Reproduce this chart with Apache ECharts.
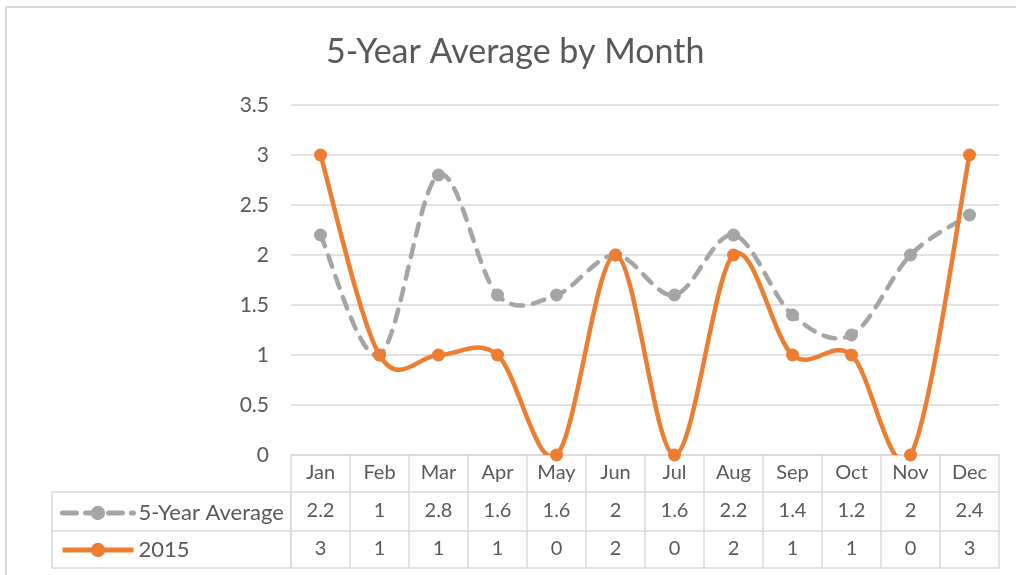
<!DOCTYPE html>
<html>
<head>
<meta charset="utf-8">
<script src="https://cdn.jsdelivr.net/npm/echarts@6/dist/echarts.min.js"></script>
<style>
  html, body { margin: 0; padding: 0; background: #fff; }
  #chart { width: 1016px; height: 575px; }
</style>
</head>
<body>
<div id="chart"></div>
<script>
// 数据
var months = ['Jan', 'Feb', 'Mar', 'Apr', 'May', 'Jun', 'Jul', 'Aug', 'Sep', 'Oct', 'Nov', 'Dec'];
var avgValues = [2.2, 1, 2.8, 1.6, 1.6, 2, 1.6, 2.2, 1.4, 1.2, 2, 2.4];
var year2015 = [3, 1, 1, 1, 0, 2, 0, 2, 1, 1, 0, 3];
var yTicks = [0, 0.5, 1, 1.5, 2, 2.5, 3, 3.5];

var FONT = 'Lato';
var TEXT = '#595959';
var LINE = '#D9D9D9';
var GRAY = '#A5A5A5';
var ORANGE = '#ED7D31';

var myChart = echarts.init(document.getElementById('chart'));

// Excel风格的平滑曲线（Catmull-Rom，允许过冲）
function smoothPath(values, api) {
    var pts = values.map(function (v, i) { return api.coord([i, v]); });
    var n = pts.length;
    var d = 'M' + pts[0][0] + ',' + pts[0][1];
    for (var i = 0; i < n - 1; i++) {
        var p0 = pts[Math.max(i - 1, 0)], p1 = pts[i], p2 = pts[i + 1], p3 = pts[Math.min(i + 2, n - 1)];
        var c1x = p1[0] + (p2[0] - p0[0]) / 6, c1y = p1[1] + (p2[1] - p0[1]) / 6;
        var c2x = p2[0] - (p3[0] - p1[0]) / 6, c2y = p2[1] - (p3[1] - p1[1]) / 6;
        d += 'C' + c1x + ',' + c1y + ',' + c2x + ',' + c2y + ',' + p2[0] + ',' + p2[1];
    }
    return d;
}

function curveSeries(name, values, color, dash) {
    return {
        name: name,
        type: 'custom',
        data: values.map(function (v, i) { return [i, v]; }),
        clip: true,
        z: 2,
        renderItem: function (params, api) {
            if (params.dataIndex !== 0) return null;
            return {
                type: 'path',
                shape: { pathData: smoothPath(values, api) },
                style: {
                    fill: 'none', stroke: color, lineWidth: 4.5,
                    lineDash: dash || null, lineCap: 'round', lineJoin: 'round'
                }
            };
        }
    };
}

function markerSeries(name, values, color) {
    return {
        name: name,
        type: 'line',
        data: values,
        symbol: 'circle',
        symbolSize: 13,
        z: 3,
        itemStyle: { color: color },
        lineStyle: { color: color, opacity: 0 }
    };
}

var option = {
    backgroundColor: '#fff',
    animation: false,
    title: {
        text: '5-Year Average by Month',
        left: 321,
        top: 30,
        textStyle: { fontFamily: FONT, fontSize: 34, fontWeight: 'normal', color: TEXT }
    },
    legend: {
        orient: 'vertical',
        left: 55,
        top: 497,
        itemWidth: 71,
        itemHeight: 18,
        itemGap: 15,
        textStyle: { fontFamily: FONT, fontSize: 22, color: TEXT },
        data: [
            { name: '5-Year Average', lineStyle: { color: GRAY, opacity: 1, width: 5, type: [14, 9], cap: 'round' } },
            { name: '2015', lineStyle: { color: ORANGE, opacity: 1, width: 5 } }
        ]
    },
    grid: { left: 291, right: 17, top: 105, bottom: 120 },
    xAxis: [
        {   // 月份行 + 表格竖线
            type: 'category',
            data: months,
            boundaryGap: true,
            axisLine: { lineStyle: { color: LINE, width: 1.5 } },
            axisTick: { show: true, length: 113, lineStyle: { color: LINE, width: 1.5 } },
            axisLabel: { margin: 8, fontFamily: FONT, fontSize: 20, color: TEXT }
        },
        {   // 5-Year Average 行
            type: 'category',
            data: months,
            position: 'bottom',
            offset: 37,
            axisLine: { lineStyle: { color: LINE, width: 1.5 } },
            axisTick: { show: false },
            axisLabel: {
                margin: 9, fontFamily: FONT, fontSize: 20, color: TEXT,
                formatter: function (v, i) { return String(avgValues[i]); }
            }
        },
        {   // 2015 行
            type: 'category',
            data: months,
            position: 'bottom',
            offset: 76,
            axisLine: { lineStyle: { color: LINE, width: 1.5 } },
            axisTick: { show: false },
            axisLabel: {
                margin: 8, fontFamily: FONT, fontSize: 20, color: TEXT,
                formatter: function (v, i) { return String(year2015[i]); }
            }
        },
        {   // 表格底线
            type: 'category',
            data: months,
            position: 'bottom',
            offset: 113,
            axisLine: { lineStyle: { color: LINE, width: 1.5 } },
            axisTick: { show: false },
            axisLabel: { show: false }
        }
    ],
    yAxis: {
        type: 'value',
        min: yTicks[0],
        max: yTicks[yTicks.length - 1],
        interval: 0.5,
        axisLine: { show: false },
        axisTick: { show: false },
        axisLabel: { margin: 22, fontFamily: FONT, fontSize: 21, color: TEXT },
        splitLine: { lineStyle: { color: LINE, width: 1.5 } }
    },
    series: [
        markerSeries('5-Year Average', avgValues, GRAY),
        markerSeries('2015', year2015, ORANGE),
        curveSeries('avgCurve', avgValues, GRAY, [12, 10]),
        curveSeries('curve2015', year2015, ORANGE)
    ],
    graphic: [
        {   // 外框
            type: 'rect',
            shape: { x: 6, y: 7, width: 1020, height: 600 },
            style: { fill: 'none', stroke: LINE, lineWidth: 2 },
            silent: true
        },
        {   // 表格左侧图例区
            type: 'rect',
            shape: { x: 52, y: 492, width: 239, height: 76 },
            style: { fill: 'none', stroke: LINE, lineWidth: 1.5 },
            silent: true
        },
        {
            type: 'line',
            shape: { x1: 52, y1: 531, x2: 291, y2: 531 },
            style: { stroke: LINE, lineWidth: 1.5 },
            silent: true
        }
    ]
};

myChart.setOption(option);
</script>
</body>
</html>
